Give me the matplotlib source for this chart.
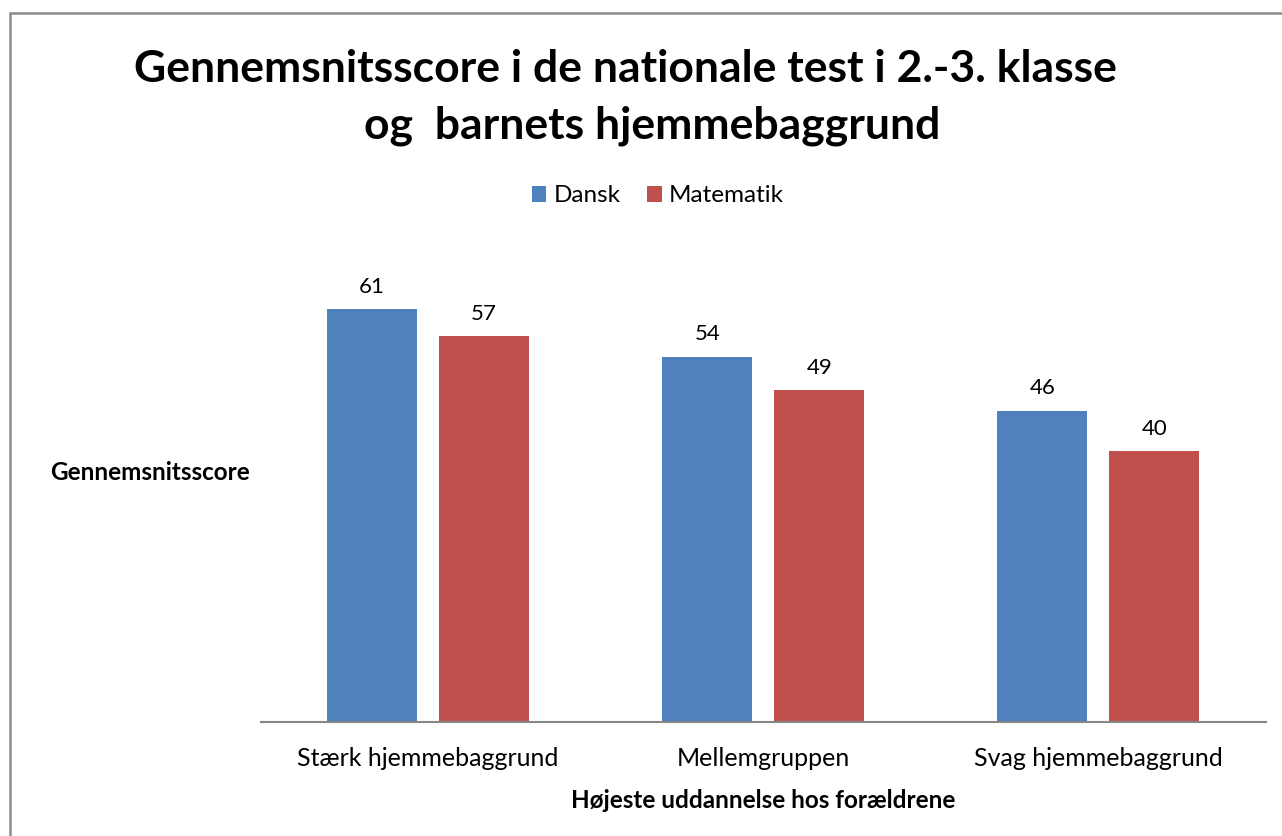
import matplotlib.pyplot as plt
import matplotlib.patches as patches
import numpy as np

# data
kategorier = ['Stærk hjemmebaggrund', 'Mellemgruppen', 'Svag hjemmebaggrund']
dansk = [61, 54, 46]
matematik = [57, 49, 40]

blaa = '#4F81BD'
roed = '#C0504D'
graa = '#868686'

plt.rcParams['font.family'] = ['Lato', 'DejaVu Sans']

fig = plt.figure(figsize=(12.82, 8.36), dpi=100)

# ramme om diagrammet (skaaret af til hoejre og forneden)
ramme = patches.Rectangle((10 / 1282, -0.1), 2, (836 - 13) / 836 + 0.1,
                          transform=fig.transFigure, fill=False,
                          edgecolor='#8c8c8c', linewidth=1.8)
fig.patches.append(ramme)
fig.text(0.0, 1.012, 'g.', fontsize=16, fontweight='bold', va='center', ha='left')

ax = fig.add_axes([260.5 / 1282, (836 - 721.5) / 836, (1266 - 260.5) / 1282, 473 / 836])

x = np.arange(len(kategorier))
b = 0.2687
off = 0.167
s1 = ax.bar(x - off, dansk, b, color=blaa, label='Dansk')
s2 = ax.bar(x + off, matematik, b, color=roed, label='Matematik')

for bars in (s1, s2):
    for r in bars:
        ax.annotate(f'{r.get_height():.0f}', (r.get_x() + r.get_width() / 2, r.get_height()),
                    xytext=(0, 9), textcoords='offset points', ha='center', va='bottom',
                    fontsize=16)

ax.set_xlim(-0.5, 2.5)
ax.set_ylim(0, 70)
ax.set_xticks(x)
ax.set_xticklabels(kategorier, fontsize=18)
ax.tick_params(axis='x', length=0, pad=18)
ax.set_yticks([])
for side in ['top', 'right', 'left']:
    ax.spines[side].set_visible(False)
ax.spines['bottom'].set_color(graa)
ax.spines['bottom'].set_linewidth(1.5)

ax.set_xlabel('Højeste uddannelse hos forældrene', fontsize=17.5, fontweight='bold', labelpad=14)

fig.text(150 / 1282, 1 - 473 / 836, 'Gennemsnitsscore', fontsize=17.5, fontweight='bold',
         ha='center', va='center')

fig.text(625 / 1282, 1 - 69 / 836, 'Gennemsnitsscore i de nationale test i 2.-3. klasse',
         fontsize=32, fontweight='bold', ha='center', va='center')
fig.text(652 / 1282, 1 - 126 / 836, 'og  barnets hjemmebaggrund',
         fontsize=32, fontweight='bold', ha='center', va='center')

fig.legend(handles=[s1, s2], loc='center', bbox_to_anchor=(658 / 1282, 1 - 196 / 836),
           ncol=2, frameon=False, fontsize=17.5, handlelength=0.6, handleheight=0.6,
           handletextpad=0.3, columnspacing=1.1)

fig.savefig('out.png', dpi=100)
